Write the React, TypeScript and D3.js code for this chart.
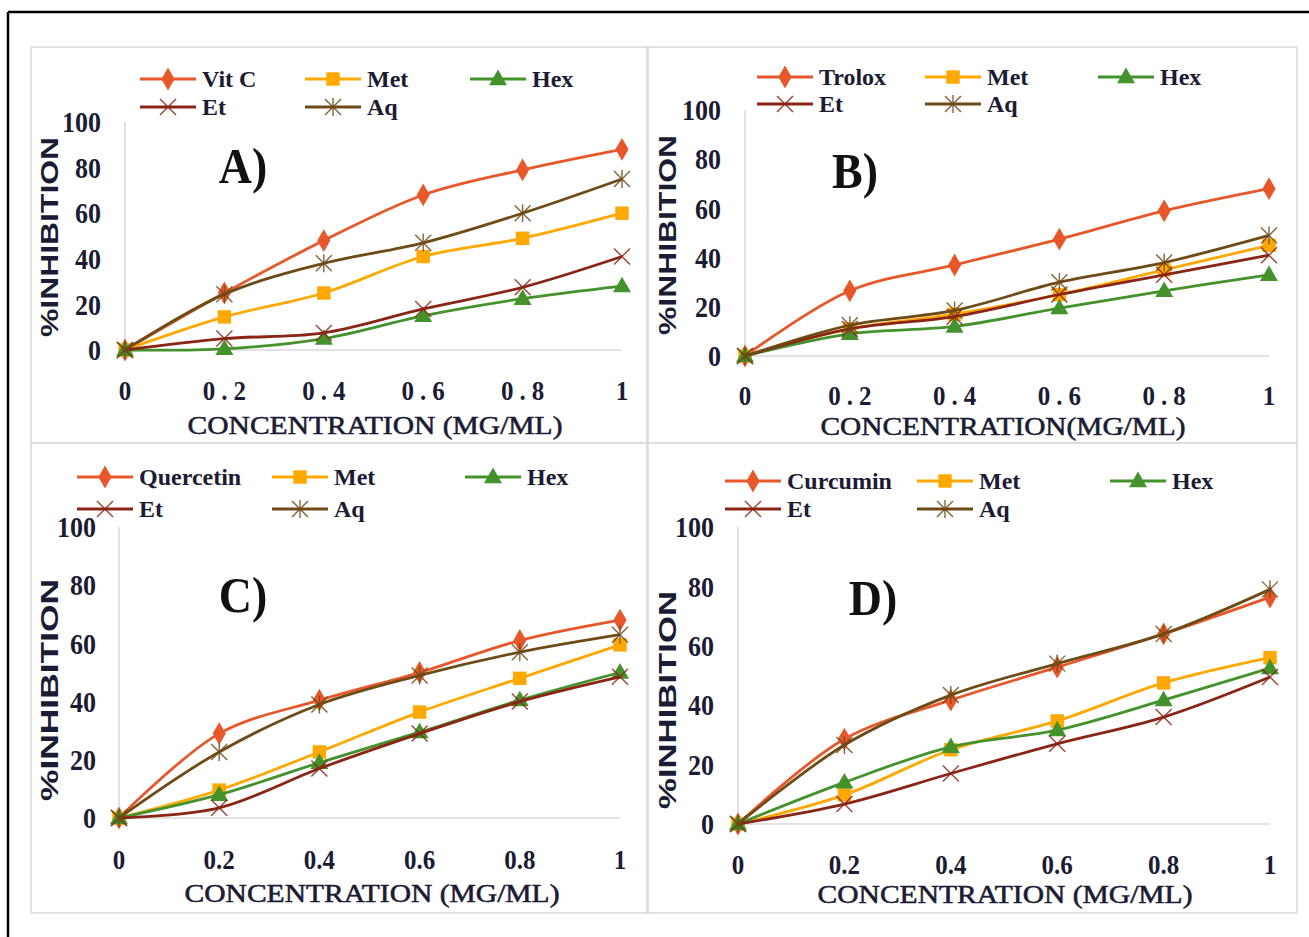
import React from "react";
import * as d3 from "d3";

// ---------- DATA ----------
const concentrations = [0, 0.2, 0.4, 0.6, 0.8, 1];
const xTickLabels = ["0", "0.2", "0.4", "0.6", "0.8", "1"];
const yTicks = [0, 20, 40, 60, 80, 100];
const panelLetters = ["A)", "B)", "C)", "D)"];
const standardNames = ["Vit C", "Trolox", "Quercetin", "Curcumin"];
const extractNames = ["Met", "Hex", "Et", "Aq"];
const xTitles = [
  "CONCENTRATION  (MG/ML)",
  "CONCENTRATION(MG/ML)",
  "CONCENTRATION  (MG/ML)",
  "CONCENTRATION  (MG/ML)",
];
const yTitle = "%INHIBITION";

// Panel A (Vit C)
const vitC = [0, 25, 48, 68, 79, 88];
const metA = [0, 14.5, 25, 41, 49, 60];
const hexA = [0, 0.5, 5, 15, 22.5, 28];
const etA = [0, 5, 7.5, 18, 27.5, 41];
const aqA = [0, 24.5, 38, 47, 60, 75];

// Panel B (Trolox)
const trolox = [0, 26.5, 37, 47.5, 59, 68];
const metB = [0, 11, 17, 25, 35, 45];
const hexB = [0, 9, 12, 19.5, 26.5, 33];
const etB = [0, 11, 16, 25, 33, 41];
const aqB = [0, 12.5, 18.5, 30, 38, 49];

// Panel C (Quercetin)
const quercetin = [0, 29, 40.5, 50, 61, 68];
const metC = [0, 9.6, 22.7, 36.4, 48, 59.5];
const hexC = [0, 8, 19, 29.5, 40.5, 50];
const etC = [0, 3.5, 17, 29, 40, 48.5];
const aqC = [0, 22.7, 39, 49, 57, 63];

// Panel D (Curcumin)
const curcumin = [0, 28.6, 41.7, 52.8, 64, 76.4];
const metD = [0, 9.8, 25, 34.7, 47.5, 56];
const hexD = [0, 14, 26, 31.6, 41.7, 52.5];
const etD = [0, 6.7, 17, 27, 36, 49.5];
const aqD = [0, 26.6, 43.4, 54, 64, 79];

const panelSeries = [
  [vitC, metA, hexA, etA, aqA],
  [trolox, metB, hexB, etB, aqB],
  [quercetin, metC, hexC, etC, aqC],
  [curcumin, metD, hexD, etD, aqD],
];

// ---------- STYLE / LAYOUT ----------
const seriesColors = ["#E8572A", "#FFA800", "#43922C", "#8A2415", "#6E4B16"];
const markerKinds = ["diamond", "square", "triangle", "x", "star"];
const textColor = "#1b1b33";
const gridColor = "#d9d9d9";
const serif = "'Liberation Serif', 'Times New Roman', serif";
const sans = "'Liberation Sans', Arial, sans-serif";
const VS = 1.12; // vertical stretch of the reference's glyphs

type Layout = {
  box: [number, number, number, number];
  x0: number; x1: number; y0: number; y100: number;
  yLabelX: number;
  yTitleX: number; yTitleY: number; yTitleLen: number;
  xTickY: number; xTickSpacing: number;
  xTitleX: number; xTitleY: number; xTitleLen: number;
  legRows: [number, number];
  legCols: [number, number, number];
  letterX: number; letterY: number;
};

const layouts: Layout[] = [
  {
    box: [31, 47, 647, 443], x0: 125, x1: 622, y0: 350, y100: 122,
    yLabelX: 101, yTitleX: 50, yTitleY: 237, yTitleLen: 200,
    xTickY: 391, xTickSpacing: 6,
    xTitleX: 375, xTitleY: 425, xTitleLen: 375,
    legRows: [79, 107], legCols: [140, 305, 470],
    letterX: 243, letterY: 183,
  },
  {
    box: [648, 47, 1297, 443], x0: 745, x1: 1269, y0: 356, y100: 110,
    yLabelX: 721, yTitleX: 668, yTitleY: 235, yTitleLen: 200,
    xTickY: 396, xTickSpacing: 6,
    xTitleX: 1003, xTitleY: 426, xTitleLen: 365,
    legRows: [77, 104], legCols: [757, 925, 1098],
    letterX: 855, letterY: 188,
  },
  {
    box: [31, 443, 647, 913], x0: 119, x1: 620, y0: 818, y100: 527,
    yLabelX: 96, yTitleX: 50, yTitleY: 690, yTitleLen: 222,
    xTickY: 860, xTickSpacing: 0,
    xTitleX: 372, xTitleY: 893, xTitleLen: 375,
    legRows: [477, 509], legCols: [77, 272, 465],
    letterX: 243, letterY: 612,
  },
  {
    box: [648, 443, 1297, 913], x0: 738, x1: 1270, y0: 824, y100: 527,
    yLabelX: 714, yTitleX: 668, yTitleY: 700, yTitleLen: 218,
    xTickY: 865, xTickSpacing: 0,
    xTitleX: 1005, xTitleY: 894, xTitleLen: 375,
    legRows: [481, 509], legCols: [725, 917, 1110],
    letterX: 873, letterY: 615,
  },
];

function Marker({ kind, x, y, color }: { kind: string; x: number; y: number; color: string }) {
  if (kind === "diamond") {
    return <path d={d3.symbol().type(d3.symbolDiamond).size(150)() || ""} transform={`translate(${x},${y})`} fill={color} />;
  }
  if (kind === "square") {
    return <path d={d3.symbol().type(d3.symbolSquare).size(180)() || ""} transform={`translate(${x},${y})`} fill={color} />;
  }
  if (kind === "triangle") {
    return <path d={d3.symbol().type(d3.symbolTriangle).size(140)() || ""} transform={`translate(${x},${y + 1})`} fill={color} />;
  }
  const r = 8;
  return (
    <g stroke={color} strokeWidth={1.4} opacity={0.85}>
      <line x1={x - r} y1={y - r} x2={x + r} y2={y + r} />
      <line x1={x - r} y1={y + r} x2={x + r} y2={y - r} />
      {kind === "star" ? <line x1={x} y1={y - r - 1} x2={x} y2={y + r + 1} /> : null}
    </g>
  );
}

function Panel({ idx }: { idx: number }) {
  const L = layouts[idx];
  const xScale = d3.scaleLinear().domain([0, 1]).range([L.x0, L.x1]);
  const yScale = d3.scaleLinear().domain([0, 100]).range([L.y0, L.y100]);
  const line = d3
    .line<number>()
    .x((_, i) => xScale(concentrations[i]))
    .y((d) => yScale(d))
    .curve(d3.curveCatmullRom.alpha(0.5));
  const names = [standardNames[idx], ...extractNames];
  const series = panelSeries[idx];
  const [bx0, by0, bx1, by1] = L.box;
  const legendPos = [
    [L.legCols[0], L.legRows[0]],
    [L.legCols[1], L.legRows[0]],
    [L.legCols[2], L.legRows[0]],
    [L.legCols[0], L.legRows[1]],
    [L.legCols[1], L.legRows[1]],
  ];
  return (
    <g>
      <rect x={bx0} y={by0} width={bx1 - bx0} height={by1 - by0} fill="#fff" stroke={gridColor} strokeWidth={1.5} />
      {/* axes */}
      <line x1={L.x0} y1={L.y0} x2={L.x1} y2={L.y0} stroke={gridColor} strokeWidth={1.5} />
      <line x1={L.x0} y1={L.y0} x2={L.x0} y2={L.y100} stroke={gridColor} strokeWidth={1.5} />
      {/* y ticks */}
      {yTicks.map((t) => (
        <text key={t} transform={`translate(${L.yLabelX},${yScale(t)}) scale(1,${VS})`} dy="0.35em" textAnchor="end" fontFamily={serif} fontWeight="bold" fontSize={26} fill={textColor}>
          {t}
        </text>
      ))}
      {/* x ticks */}
      {concentrations.map((c, i) => {
        const sp = i > 0 && i < 5 ? L.xTickSpacing : 0;
        return (
          <text key={c} transform={`translate(${xScale(c) + sp / 2},${L.xTickY}) scale(1,${VS})`} dy="0.33em" textAnchor="middle" fontFamily={serif} fontWeight="bold" fontSize={25} letterSpacing={sp} fill={textColor}>
            {xTickLabels[i]}
          </text>
        );
      })}
      {/* titles */}
      <text transform={`translate(${L.xTitleX},${L.xTitleY}) scale(1,${VS})`} dy="0.35em" textAnchor="middle" fontFamily={serif} fontSize={23} fill={textColor} stroke={textColor} strokeWidth={0.5} textLength={L.xTitleLen} lengthAdjust="spacingAndGlyphs">
        {xTitles[idx]}
      </text>
      <text transform={`translate(${L.yTitleX},${L.yTitleY}) rotate(-90)`} dy="0.35em" textAnchor="middle" fontFamily={sans} fontWeight="bold" fontSize={24} fill={textColor} textLength={L.yTitleLen} lengthAdjust="spacingAndGlyphs">
        {yTitle}
      </text>
      {/* series */}
      {series.map((vals, si) => (
        <g key={si}>
          <path d={line(vals) || ""} fill="none" stroke={seriesColors[si]} strokeWidth={2.8} />
          {vals.map((v, i) => (
            <Marker key={i} kind={markerKinds[si]} x={xScale(concentrations[i])} y={yScale(v)} color={seriesColors[si]} />
          ))}
        </g>
      ))}
      {/* panel letter */}
      <text transform={`translate(${L.letterX},${L.letterY}) scale(1,${VS})`} textAnchor="middle" fontFamily={serif} fontWeight="bold" fontSize={46} fill="#111">
        {panelLetters[idx]}
      </text>
      {/* legend */}
      {names.map((n, si) => {
        const [lx, ly] = legendPos[si];
        return (
          <g key={n + si}>
            <line x1={lx} y1={ly} x2={lx + 56} y2={ly} stroke={seriesColors[si]} strokeWidth={3} />
            <Marker kind={markerKinds[si]} x={lx + 28} y={ly} color={seriesColors[si]} />
            <text x={lx + 62} y={ly} dy="0.35em" fontFamily={serif} fontWeight="bold" fontSize={24} fill={textColor}>
              {n}
            </text>
          </g>
        );
      })}
    </g>
  );
}

export default function App() {
  return (
    <svg width={1309} height={937} style={{ position: "absolute", left: 0, top: 0, background: "#fff" }}>
      <rect x={0} y={0} width={1309} height={937} fill="#fff" />
      {[0, 1, 2, 3].map((i) => (
        <Panel key={i} idx={i} />
      ))}
      <line x1={8} y1={12} x2={1309} y2={12} stroke="#000" strokeWidth={2.5} />
      <line x1={8} y1={12} x2={8} y2={937} stroke="#000" strokeWidth={2.5} />
    </svg>
  );
}
